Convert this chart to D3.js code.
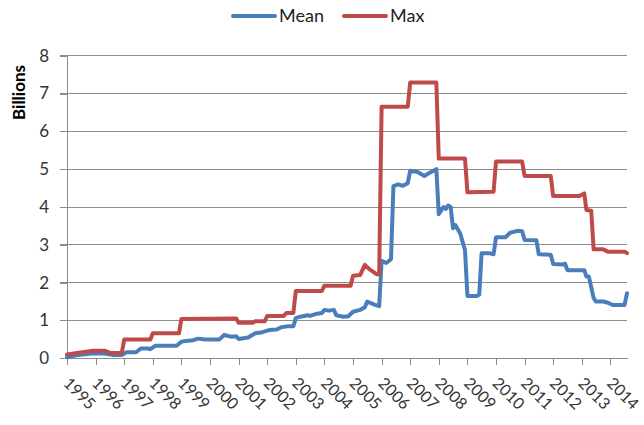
<!DOCTYPE html>
<html>
<head>
<meta charset="utf-8">
<script src="https://cdn.jsdelivr.net/npm/d3@7"></script>
<style>
  html, body { margin: 0; padding: 0; background: #fff; }
  svg { display: block; }
  text { font-family: Lato, "Open Sans", sans-serif; }
</style>
</head>
<body>
<svg id="chart" width="644" height="425"></svg>
<script>
// ---- data ----
const seriesNames = ["Mean", "Max"];
const yTickValues = [0, 1, 2, 3, 4, 5, 6, 7, 8];
const xTickYears = [1995, 1996, 1997, 1998, 1999, 2000, 2001, 2002, 2003, 2004,
                    2005, 2006, 2007, 2008, 2009, 2010, 2011, 2012, 2013, 2014];

const meanDates = ["1995-01","1995-06","1995-12","1996-04","1996-08","1996-12","1997-02","1997-06","1997-08","1997-11",
  "1997-12","1998-02","1998-11","1999-01","1999-03","1999-06","1999-08","1999-11","2000-05","2000-07",
  "2000-10","2000-12","2001-01","2001-05","2001-08","2001-11","2002-02","2002-05","2002-07","2002-10",
  "2002-12","2003-01","2003-03","2003-06","2003-07","2003-10","2003-12","2004-01","2004-03","2004-05",
  "2004-06","2004-09","2004-11","2005-01","2005-04","2005-06","2005-07","2005-10","2005-12","2006-01",
  "2006-03","2006-05","2006-06","2006-08","2006-10","2006-12","2007-01","2007-04","2007-07","2007-09",
  "2007-12","2008-01","2008-03","2008-04","2008-05","2008-06","2008-07","2008-08","2008-10","2008-12",
  "2009-01","2009-05","2009-06","2009-07","2009-10","2009-12","2010-01","2010-05","2010-07","2010-10",
  "2010-12","2011-01","2011-06","2011-07","2011-12","2012-01","2012-05","2012-06","2012-07","2013-02",
  "2013-03","2013-04","2013-06","2013-07","2013-10","2013-12","2014-02","2014-07","2014-08"];
const meanValues = [0.03,0.09,0.13,0.13,0.09,0.09,0.16,0.16,0.26,0.26,
  0.24,0.33,0.33,0.44,0.46,0.48,0.52,0.50,0.50,0.62,
  0.57,0.58,0.51,0.55,0.66,0.69,0.75,0.76,0.82,0.85,
  0.85,1.06,1.10,1.14,1.12,1.18,1.20,1.28,1.26,1.28,
  1.14,1.10,1.11,1.23,1.28,1.35,1.50,1.42,1.38,2.58,
  2.52,2.62,4.55,4.60,4.56,4.63,4.96,4.93,4.82,4.90,
  5.00,3.81,4.00,3.95,4.04,4.00,3.44,3.52,3.30,2.86,
  1.65,1.65,1.68,2.78,2.78,2.75,3.20,3.20,3.32,3.37,
  3.36,3.13,3.12,2.75,2.74,2.49,2.48,2.50,2.33,2.33,
  2.16,2.16,1.59,1.50,1.50,1.47,1.41,1.41,1.72];

const maxDates = ["1995-01","1995-06","1995-12","1996-05","1996-07","1996-12","1997-01","1997-12","1998-01","1998-12",
  "1999-01","2000-12","2001-01","2001-07","2001-08","2001-12","2002-01","2002-08","2002-09","2002-12",
  "2003-01","2003-12","2004-01","2004-12","2005-01","2005-04","2005-06","2005-08","2005-11","2005-12",
  "2006-01","2006-12","2007-01","2007-12","2008-01","2008-12","2009-01","2009-12","2010-01","2010-12",
  "2011-01","2011-12","2012-01","2012-12","2013-02","2013-03","2013-05","2013-06","2013-10","2013-12",
  "2014-07","2014-08"];
const maxValues = [0.10,0.15,0.20,0.20,0.15,0.14,0.50,0.50,0.66,0.66,
  1.04,1.05,0.94,0.94,0.98,0.98,1.12,1.12,1.20,1.20,
  1.78,1.78,1.92,1.92,2.18,2.20,2.47,2.35,2.22,2.22,
  6.65,6.65,7.29,7.29,5.28,5.28,4.39,4.40,5.20,5.20,
  4.82,4.82,4.29,4.29,4.36,3.92,3.90,2.88,2.88,2.82,
  2.82,2.78];

const colors = ["#4A7EBB", "#BE4B48"];

// ---- layout ----
const W = 644, H = 425;
const margin = { top: 55.7, right: 17, bottom: 66.7, left: 67 };
const parse = d3.timeParse("%Y-%m");

const svg = d3.select("#chart");
const x = d3.scaleTime()
  .domain([parse("1995-01"), parse("2014-08")])
  .range([margin.left, W - margin.right]);
const y = d3.scaleLinear()
  .domain([0, 8])
  .range([H - margin.bottom, margin.top]);

const gray = "#8c8c8c";

// gridlines
svg.append("g")
  .selectAll("line")
  .data(yTickValues.filter(v => v > 0))
  .join("line")
  .attr("x1", margin.left - 7).attr("x2", W - margin.right)
  .attr("y1", d => y(d)).attr("y2", d => y(d))
  .attr("stroke", gray).attr("stroke-width", 1).attr("shape-rendering", "crispEdges");

// y axis
const yAxis = svg.append("g")
  .attr("transform", `translate(${margin.left},0)`)
  .call(d3.axisLeft(y).tickValues(yTickValues).tickFormat(d3.format("d")).tickSize(7).tickPadding(11));
yAxis.select(".domain").attr("stroke", gray).attr("shape-rendering", "crispEdges");
yAxis.selectAll(".tick line").attr("stroke", gray).attr("shape-rendering", "crispEdges");
yAxis.selectAll(".tick text").attr("font-size", 17).attr("fill", "#333")
  .attr("font-family", "Lato, 'Open Sans', sans-serif");

// x axis
const xAxis = svg.append("g")
  .attr("transform", `translate(0,${H - margin.bottom})`)
  .call(d3.axisBottom(x)
    .tickValues(xTickYears.map(yr => new Date(yr, 0, 1)))
    .tickFormat(d3.timeFormat("%Y"))
    .tickSize(7)
    .tickSizeOuter(0));
xAxis.select(".domain").attr("stroke", gray).attr("shape-rendering", "crispEdges");
xAxis.selectAll(".tick line").attr("stroke", gray).attr("shape-rendering", "crispEdges");
xAxis.selectAll(".tick text")
  .attr("font-size", 16).attr("fill", "#333")
  .attr("font-family", "Lato, 'Open Sans', sans-serif")
  .attr("text-anchor", "start")
  .attr("y", 0).attr("dy", "0.35em")
  .attr("transform", "translate(-1,22) rotate(45)");

// y title
svg.append("text")
  .attr("transform", "translate(25,92.5) rotate(-90)")
  .attr("text-anchor", "middle")
  .attr("font-size", 17).attr("font-weight", "bold").attr("fill", "#000")
  .text("Billions");

// lines
const series = [
  meanDates.map((d, i) => ({ date: parse(d), v: meanValues[i] })),
  maxDates.map((d, i) => ({ date: parse(d), v: maxValues[i] }))
];
const line = d3.line().x(d => x(d.date)).y(d => y(d.v));
svg.append("g")
  .selectAll("path")
  .data(series)
  .join("path")
  .attr("d", line)
  .attr("fill", "none")
  .attr("stroke", (d, i) => colors[i])
  .attr("stroke-width", 4)
  .attr("stroke-linejoin", "round")
  .attr("stroke-linecap", "round");

// legend
const legendItems = [
  { name: seriesNames[0], color: colors[0], x0: 233 },
  { name: seriesNames[1], color: colors[1], x0: 344 }
];
const lg = svg.append("g");
legendItems.forEach(it => {
  lg.append("line")
    .attr("x1", it.x0).attr("x2", it.x0 + 42)
    .attr("y1", 16).attr("y2", 16)
    .attr("stroke", it.color).attr("stroke-width", 4).attr("stroke-linecap", "round");
  lg.append("text")
    .attr("x", it.x0 + 46).attr("y", 16).attr("dy", "0.35em")
    .attr("font-size", 18).attr("fill", "#222")
    .text(it.name);
});
</script>
</body>
</html>
